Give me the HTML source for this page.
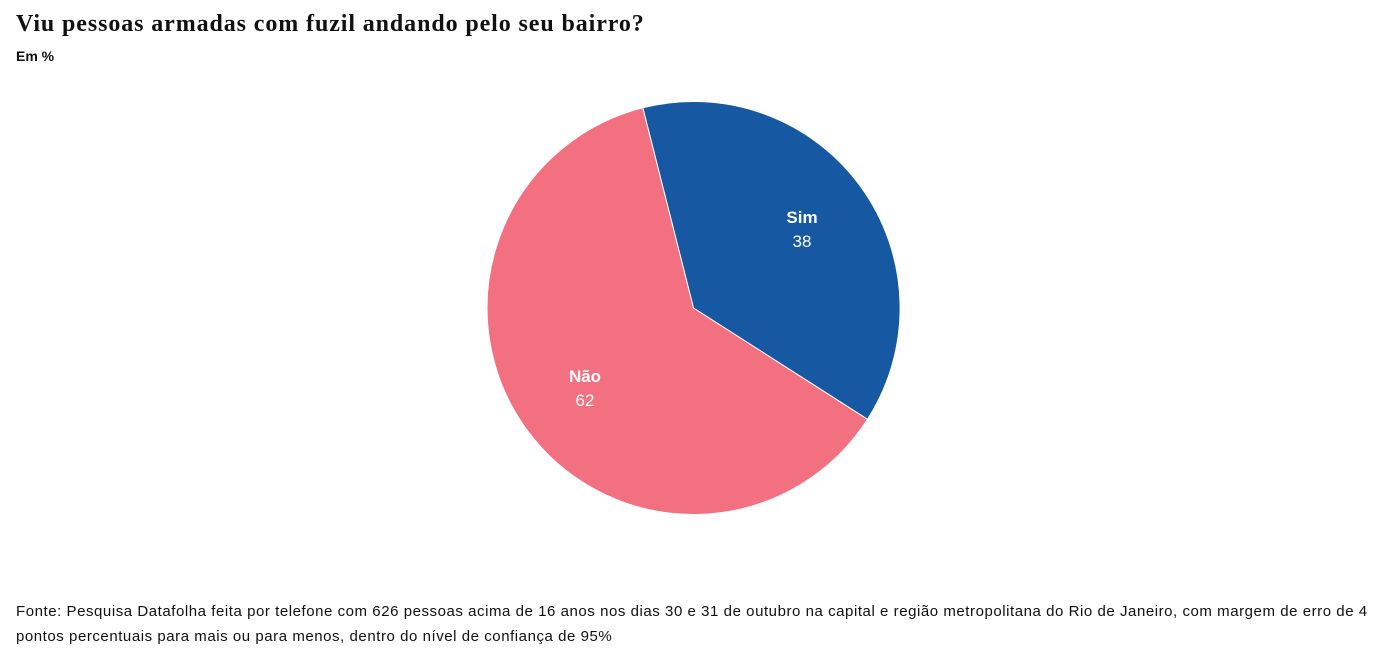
<!DOCTYPE html>
<html><head><meta charset="utf-8"><style>
body{margin:0;width:1390px;height:667px;background:#fff;position:relative;overflow:hidden;font-family:"Liberation Sans",sans-serif;color:#111}
.t{position:absolute;left:16px;top:11px;font-family:"Liberation Serif",serif;font-weight:bold;font-size:24px;letter-spacing:0.9px}
.s{position:absolute;left:16px;top:48px;font-size:14px;font-weight:bold}
.f{position:absolute;left:16px;top:599px;font-size:15px;letter-spacing:0.55px;line-height:25px;width:1362px}
</style></head><body>
<div class="t">Viu pessoas armadas com fuzil andando pelo seu bairro?</div>
<div class="s">Em %</div>
<svg width="1390" height="667" style="position:absolute;left:0;top:0">
<path d="M693.5,308 L642.8,107.8 A206.5,206.5 0 0 1 867.5,419.3 Z" fill="#1659a2" stroke="#fff" stroke-width="1"/>
<path d="M693.5,308 L867.5,419.3 A206.5,206.5 0 1 1 642.8,107.8 Z" fill="#f27080" stroke="#fff" stroke-width="1"/>
<g fill="#fff" font-family="Liberation Sans,sans-serif" font-size="17" text-anchor="middle">
<text x="802" y="223" font-weight="bold">Sim</text><text x="802" y="247">38</text>
<text x="585" y="382" font-weight="bold">Não</text><text x="585" y="406">62</text>
</g></svg>
<div class="f">Fonte: Pesquisa Datafolha feita por telefone com 626 pessoas acima de 16 anos nos dias 30 e 31 de outubro na capital e região metropolitana do Rio de Janeiro, com margem de erro de 4 pontos percentuais para mais ou para menos, dentro do nível de confiança de 95%</div>
</body></html>
